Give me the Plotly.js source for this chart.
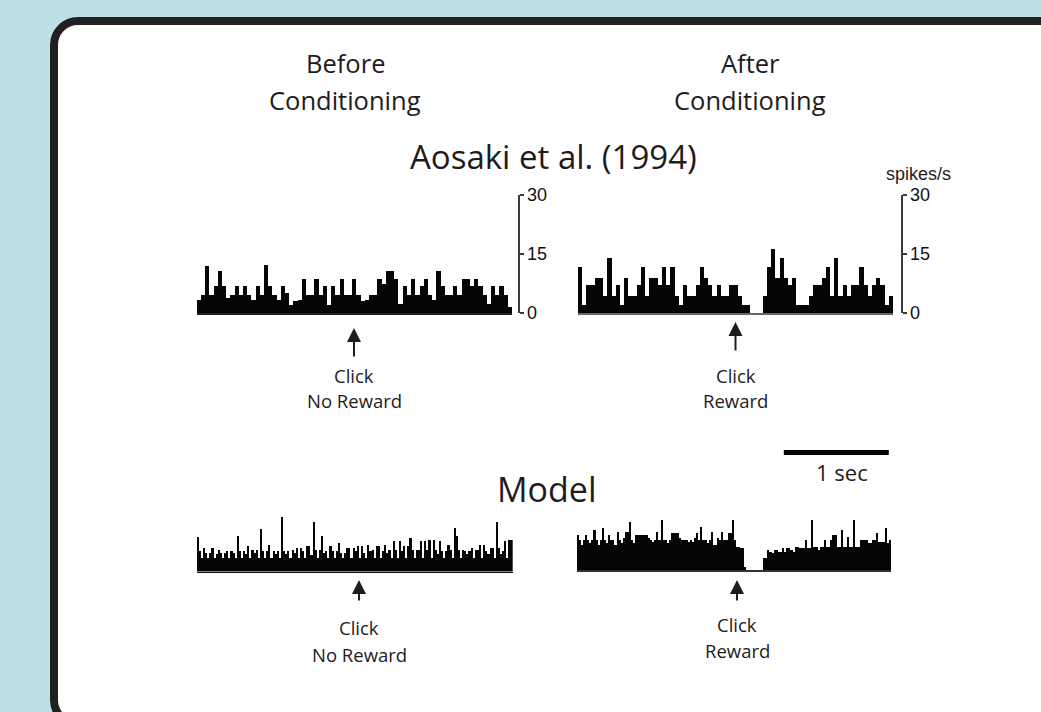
<!DOCTYPE html>
<html>
<head>
<meta charset="utf-8">
<script src="https://cdn.plot.ly/plotly-3.0.1.min.js"></script>
<style>
  html, body { margin: 0; padding: 0; background: #bee0e4; }
  #chart { width: 1041px; height: 712px; }
</style>
</head>
<body>
<div id="chart"></div>
<script>
// Peri-event spike histograms (spikes/s), time relative to the click (s)

// Aosaki et al. (1994) recordings, 40 ms bins from -1.5 s to +1.5 s
const aosakiBefore = [
  3.4, 4.7, 11.9, 4.7, 6.9, 10.8, 6.9, 3.8, 4.7, 6.9,
  4.7, 6.9, 4.7, 3.4, 6.9, 4.7, 12.1, 6.9, 4.7, 3.4,
  6.9, 5.2, 2.0, 3.0, 3.4, 8.6, 4.7, 4.7, 8.6, 4.7,
  6.9, 2.0, 6.9, 4.7, 8.6, 4.7, 4.7, 8.6, 4.7, 3.0,
  3.4, 4.7, 4.7, 8.6, 7.5, 10.8, 10.8, 8.6, 2.2, 6.9,
  4.7, 8.6, 4.7, 6.9, 8.6, 4.7, 3.4, 10.8, 6.9, 4.7,
  4.7, 6.9, 4.7, 8.6, 8.6, 6.9, 8.6, 6.9, 4.7, 2.2,
  6.9, 4.7, 6.9, 4.7, 1.4
];
const aosakiAfter = [
  11.6, 2.1, 7.0, 7.0, 9.0, 9.0, 4.3, 13.9, 4.3, 7.0,
  2.1, 9.0, 4.3, 4.3, 7.0, 11.6, 4.3, 9.0, 9.0, 7.0,
  11.6, 7.0, 11.6, 4.3, 2.1, 7.0, 4.3, 4.3, 7.0, 11.6,
  9.0, 7.0, 4.3, 7.0, 4.3, 4.3, 7.0, 7.0, 4.3, 2.1,
  2.1, 0, 0, 0, 4.3, 11.6, 16.3, 9.0, 13.9, 9.0,
  7.0, 9.0, 2.1, 2.1, 2.1, 4.3, 7.0, 7.0, 9.0, 11.6,
  4.3, 13.9, 4.3, 7.0, 4.3, 7.0, 7.0, 11.6, 7.0, 4.3,
  7.0, 9.0, 7.0, 2.1, 4.3
];

// Model output, 20 ms bins from -1.5 s to +1.5 s
const modelBefore = [
  9.0, 5.2, 3.4, 6.0, 4.7, 3.6, 4.7, 6.0, 3.4, 4.5,
  5.6, 4.7, 3.5, 4.7, 5.2, 3.4, 5.2, 4.7, 3.6, 9.1,
  5.2, 3.4, 5.2, 4.6, 6.5, 3.5, 5.6, 4.7, 5.6, 3.4,
  10.9, 5.2, 3.5, 5.2, 6.9, 3.6, 5.2, 4.6, 5.2, 3.4,
  14.2, 5.2, 4.4, 5.2, 3.5, 5.6, 4.7, 6.0, 3.4, 6.0,
  5.2, 3.6, 6.5, 6.5, 4.2, 12.7, 5.6, 3.5, 5.6, 9.1,
  4.7, 5.2, 3.4, 6.5, 5.2, 3.6, 5.2, 7.4, 4.7, 3.5,
  4.7, 6.0, 6.0, 3.4, 6.0, 5.2, 6.5, 3.6, 6.5, 4.7,
  3.4, 6.9, 5.2, 5.6, 3.5, 6.5, 6.5, 3.4, 5.2, 6.9,
  4.8, 5.6, 3.5, 7.8, 5.6, 3.4, 7.8, 5.2, 6.5, 3.6,
  6.5, 8.6, 5.6, 3.4, 5.6, 5.6, 7.8, 3.5, 7.8, 5.6,
  8.2, 3.4, 8.2, 5.6, 4.4, 7.8, 5.2, 3.5, 5.2, 6.9,
  5.6, 3.4, 11.2, 9.1, 5.6, 3.6, 5.6, 5.2, 4.4, 5.2,
  6.0, 3.5, 5.6, 5.6, 6.9, 3.4, 6.9, 5.2, 4.4, 6.0,
  6.0, 3.6, 12.7, 6.0, 4.4, 5.2, 7.8, 3.5, 8.2, 8.2
];
const modelAfter = [
  9.1, 7.8, 6.5, 7.8, 9.1, 7.8, 6.9, 7.8, 10.3, 7.8,
  6.5, 7.8, 10.8, 7.8, 6.9, 9.1, 7.8, 7.8, 6.5, 9.9,
  7.8, 6.9, 8.2, 9.9, 9.9, 12.5, 7.8, 6.9, 9.1, 9.1,
  9.1, 9.1, 9.1, 9.1, 8.2, 7.8, 7.3, 7.8, 9.9, 7.8,
  12.9, 7.8, 7.8, 6.9, 7.8, 9.5, 9.5, 9.5, 9.5, 8.2,
  7.8, 7.8, 7.8, 7.3, 7.8, 7.3, 8.2, 9.5, 7.8, 11.2,
  7.8, 7.8, 6.9, 7.8, 9.9, 6.5, 6.5, 8.2, 7.8, 9.9,
  7.8, 7.8, 9.5, 9.5, 12.9, 7.8, 6.0, 6.0, 5.6, 5.6,
  0.9, 0, 0, 0, 0, 0, 0, 0, 0, 3.0,
  3.0, 5.2, 4.7, 4.3, 5.2, 5.2, 4.7, 4.7, 5.6, 4.7,
  5.6, 5.6, 5.2, 4.7, 6.0, 6.0, 5.6, 5.6, 5.6, 7.8,
  5.6, 5.6, 12.9, 6.0, 6.0, 5.2, 6.0, 6.0, 7.8, 6.0,
  6.0, 7.8, 9.1, 9.1, 6.0, 6.0, 10.3, 6.0, 6.0, 8.6,
  6.0, 6.0, 12.9, 6.0, 6.0, 7.8, 7.8, 7.8, 7.8, 6.9,
  6.9, 7.8, 7.8, 9.5, 7.3, 7.3, 7.3, 10.8, 6.9, 7.8
];

const rateTicks = [0, 15, 30];
const rateTickText = ['0', '15', '30'];
const windowStart = -1.5;   // s
const windowEnd = 1.5;      // s
const recBin = 0.04;        // s
const modelBin = 0.02;      // s

// ---- page geometry helpers (pixels -> paper fractions) ----
const W = 1041, H = 712;
const px = x => x / W;
const py = y => 1 - y / H;

const INK = '#1f1b1c';
const LABEL_FONT = 'Open Sans, Noto Sans, sans-serif';
const TICK_FONT = 'Liberation Sans, Arial, sans-serif';

function histTrace(values, bin, xa, ya) {
  return {
    type: 'bar',
    y: values,
    x0: windowStart + bin / 2,
    dx: bin,
    xaxis: xa,
    yaxis: ya,
    marker: { color: '#050505', line: { width: 0 } },
    hoverinfo: 'skip',
    showlegend: false
  };
}

const data = [
  histTrace(aosakiBefore, recBin, 'x', 'y'),
  histTrace(aosakiAfter, recBin, 'x2', 'y2'),
  histTrace(modelBefore, modelBin, 'x3', 'y3'),
  histTrace(modelAfter, modelBin, 'x4', 'y4')
];

function timeAxis(domain, anchor, lineColor) {
  return {
    domain: domain,
    anchor: anchor,
    range: [windowStart, windowEnd],
    showline: true,
    linecolor: lineColor,
    linewidth: 1.5,
    showgrid: false,
    zeroline: false,
    ticks: '',
    showticklabels: false,
    fixedrange: true
  };
}

function rateAxis(domain, posPx) {
  return {
    domain: domain,
    anchor: 'free',
    position: px(posPx),
    side: 'right',
    range: [0, 30],
    showline: true,
    linecolor: '#3a3a3a',
    linewidth: 1.5,
    ticks: 'outside',
    ticklen: 4,
    tickwidth: 1.5,
    tickcolor: '#3a3a3a',
    tickvals: rateTicks,
    ticktext: rateTickText,
    tickfont: { family: TICK_FONT, size: 18, color: '#111' },
    showgrid: false,
    zeroline: false,
    fixedrange: true
  };
}

function hiddenRate(domain) {
  return {
    domain: domain,
    anchor: 'free',
    range: [0, 30],
    visible: false,
    showgrid: false,
    zeroline: false,
    fixedrange: true
  };
}

function label(text, x, y, size, family) {
  return {
    text: text,
    xref: 'paper', yref: 'paper',
    x: px(x), y: py(y),
    xanchor: 'center', yanchor: 'middle',
    showarrow: false,
    font: { family: family || LABEL_FONT, size: size, color: INK }
  };
}

function clickArrow(x, tipY, len) {
  return {
    text: '',
    xref: 'paper', yref: 'paper',
    x: px(x), y: py(tipY),
    ax: 0, ay: len,
    showarrow: true,
    arrowhead: 2,
    arrowsize: 1.4,
    arrowwidth: 2,
    arrowcolor: INK
  };
}

// rounded white card with a thick dark frame
const R = 24, K = 0.5523 * R;
const fx = 54, fy = 21, fxR = 1120, fyB = 724;
const P = (x, y) => px(x) + ',' + py(y);
const framePath =
  'M' + P(fxR, fy) +
  ' L' + P(fx + R, fy) +
  ' C' + P(fx + R - K, fy) + ' ' + P(fx, fy + R - K) + ' ' + P(fx, fy + R) +
  ' L' + P(fx, fyB - R) +
  ' C' + P(fx, fyB - R + K) + ' ' + P(fx + R - K, fyB) + ' ' + P(fx + R, fyB) +
  ' L' + P(fxR, fyB) + ' Z';

const layout = {
  width: W,
  height: H,
  margin: { l: 0, r: 0, t: 0, b: 0, pad: 0 },
  paper_bgcolor: '#bee0e4',
  plot_bgcolor: 'rgba(0,0,0,0)',
  bargap: 0,
  showlegend: false,
  xaxis: timeAxis([px(196.7), px(512)], 'y', '#222'),
  yaxis: rateAxis([py(313), py(195)], 518),
  xaxis2: timeAxis([px(578), px(893)], 'y2', '#666'),
  yaxis2: rateAxis([py(313), py(195)], 901),
  xaxis3: timeAxis([px(196.7), px(512.7)], 'y3', '#111'),
  yaxis3: hiddenRate([py(571.5), py(455.5)]),
  xaxis4: timeAxis([px(576.7), px(891)], 'y4', '#333'),
  yaxis4: hiddenRate([py(570), py(454)]),
  shapes: [
    {
      type: 'path', layer: 'below',
      xref: 'paper', yref: 'paper',
      path: framePath,
      fillcolor: '#ffffff',
      line: { color: '#231f20', width: 8 }
    },
    // 1 s scale bar, drawn on the time axis of the right-hand recording
    {
      type: 'line',
      xref: 'x2', yref: 'paper',
      x0: 0.46, x1: 1.46,
      y0: py(452.5), y1: py(452.5),
      line: { color: '#050505', width: 5 }
    }
  ],
  annotations: [
    label('Before', 345, 63, 25.5),
    label('Conditioning', 345, 100, 25.5),
    label('After', 750, 63, 25.5),
    label('Conditioning', 750, 100, 25.5),
    label('Aosaki et al. (1994)', 553, 156, 33),
    label('Model', 547, 489, 34),
    label('spikes/s', 918, 174, 18, TICK_FONT),
    label('1 sec', 842, 472, 22),

    clickArrow(354, 328, 30),
    label('Click', 354, 375, 18.5),
    label('No Reward', 354, 400, 18.5),

    clickArrow(735.5, 322, 30),
    label('Click', 735.5, 375, 18.5),
    label('Reward', 735.5, 400, 18.5),

    clickArrow(359, 580, 22),
    label('Click', 359, 627, 18.5),
    label('No Reward', 359, 654, 18.5),

    clickArrow(737, 580, 22),
    label('Click', 737, 624, 18.5),
    label('Reward', 737, 650, 18.5)
  ]
};

Plotly.newPlot('chart', data, layout, { staticPlot: true, displayModeBar: false });
</script>
</body>
</html>
